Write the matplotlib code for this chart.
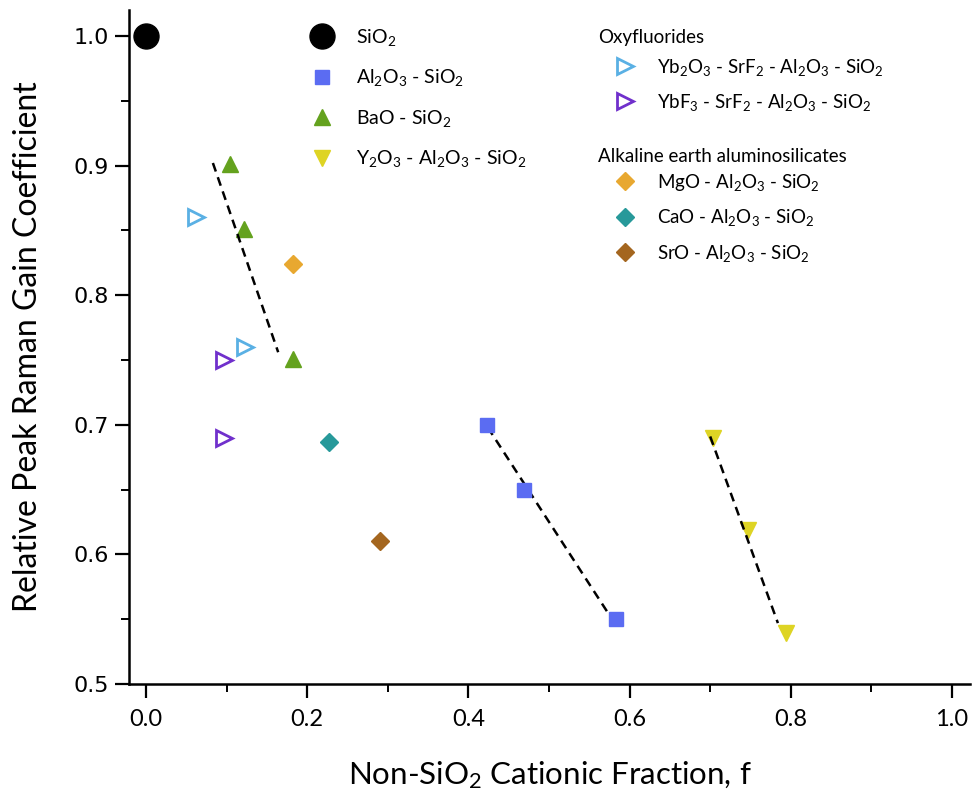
import matplotlib
matplotlib.use("Agg")
import matplotlib.pyplot as plt
from matplotlib.ticker import MultipleLocator

plt.rcParams['font.family'] = ['Lato', 'DejaVu Sans']
plt.rcParams['mathtext.fontset'] = 'custom'
plt.rcParams['mathtext.rm'] = 'Lato'
plt.rcParams['mathtext.it'] = 'Lato:italic'
plt.rcParams['mathtext.bf'] = 'Lato:bold'

# ---- data ----
sio2_x = [0.0]
sio2_y = [1.0]
al_x = [0.423, 0.469, 0.583]
al_y = [0.700, 0.650, 0.550]
ba_x = [0.104, 0.121, 0.183]
ba_y = [0.901, 0.851, 0.751]
y_x = [0.703, 0.747, 0.794]
y_y = [0.690, 0.619, 0.539]
yb2o3_x = [0.062, 0.123]
yb2o3_y = [0.860, 0.760]
ybf3_x = [0.097, 0.097]
ybf3_y = [0.750, 0.690]
mg_x = [0.182]
mg_y = [0.824]
ca_x = [0.227]
ca_y = [0.687]
sr_x = [0.290]
sr_y = [0.610]

# linear fit guide lines (end points)
fit_ba_x = [0.083, 0.164]
fit_ba_y = [0.902, 0.756]
fit_al_x = [0.424, 0.572]
fit_al_y = [0.698, 0.556]
fit_y_x = [0.700, 0.784]
fit_y_y = [0.691, 0.547]

xticks = [0.0, 0.2, 0.4, 0.6, 0.8, 1.0]
yticks = [0.5, 0.6, 0.7, 0.8, 0.9, 1.0]

group_titles = ['Oxyfluorides', 'Alkaline earth aluminosilicates']

c_al = '#5b6cf2'
c_ba = '#64a21e'
c_y = '#ded424'
c_yb = '#5ab0e4'
c_ybf = '#7030cc'
c_mg = '#e8a830'
c_ca = '#27999a'
c_sr = '#a4661f'

W, H = 972, 797
fig = plt.figure(figsize=(W / 100, H / 100), dpi=100)
L, R, T, B = 129, 970, 10, 684
ax = fig.add_axes([L / W, 1 - B / H, (R - L) / W, (B - T) / H])
px_per_x = 806.0
px_per_y = 1296.0
ax.set_xlim((L - 146) / px_per_x, (R - 146) / px_per_x)
ax.set_ylim(0.5, 0.5 + (B - T) / px_per_y)

dash = (0, (3.6, 2.4))
ax.plot(fit_ba_x, fit_ba_y, color='black', lw=1.8, linestyle=dash, zorder=2)
ax.plot(fit_al_x, fit_al_y, color='black', lw=1.8, linestyle=dash, zorder=2)
ax.plot(fit_y_x, fit_y_y, color='black', lw=1.8, linestyle=dash, zorder=2)

def sub(s):
    return r'$\mathregular{_{%s}}$' % s

h_sio2, = ax.plot(sio2_x, sio2_y, 'o', ms=18, color='black', ls='none', zorder=3, clip_on=False,
                  label='SiO' + sub(2))
h_al, = ax.plot(al_x, al_y, 's', ms=10, color=c_al, ls='none', zorder=3,
                label='Al' + sub(2) + 'O' + sub(3) + ' - SiO' + sub(2))
h_ba, = ax.plot(ba_x, ba_y, '^', ms=12, color=c_ba, ls='none', zorder=1,
                label='BaO - SiO' + sub(2))
h_y, = ax.plot(y_x, y_y, 'v', ms=12, color=c_y, ls='none', zorder=1,
               label='Y' + sub(2) + 'O' + sub(3) + ' - Al' + sub(2) + 'O' + sub(3) + ' - SiO' + sub(2))
h_yb, = ax.plot(yb2o3_x, yb2o3_y, '>', ms=11, mfc='none', mec=c_yb, mew=2, ls='none', zorder=3,
                label='Yb' + sub(2) + 'O' + sub(3) + ' - SrF' + sub(2) + ' - Al' + sub(2) + 'O' + sub(3) + ' - SiO' + sub(2))
h_ybf, = ax.plot(ybf3_x, ybf3_y, '>', ms=11, mfc='none', mec=c_ybf, mew=2, ls='none', zorder=3,
                 label='YbF' + sub(3) + ' - SrF' + sub(2) + ' - Al' + sub(2) + 'O' + sub(3) + ' - SiO' + sub(2))
h_mg, = ax.plot(mg_x, mg_y, 'D', ms=9, color=c_mg, ls='none', zorder=3,
                label='MgO - Al' + sub(2) + 'O' + sub(3) + ' - SiO' + sub(2))
h_ca, = ax.plot(ca_x, ca_y, 'D', ms=9, color=c_ca, ls='none', zorder=3,
                label='CaO - Al' + sub(2) + 'O' + sub(3) + ' - SiO' + sub(2))
h_sr, = ax.plot(sr_x, sr_y, 'D', ms=9, color=c_sr, ls='none', zorder=3,
                label='SrO - Al' + sub(2) + 'O' + sub(3) + ' - SiO' + sub(2))

# axes styling
for s in ['top', 'right']:
    ax.spines[s].set_visible(False)
for s in ['left', 'bottom']:
    ax.spines[s].set_linewidth(1.8)
ax.set_xticks(xticks)
ax.set_yticks(yticks)
ax.xaxis.set_minor_locator(MultipleLocator(0.1))
ax.yaxis.set_minor_locator(MultipleLocator(0.05))
ax.tick_params(which='major', direction='out', length=10, width=1.6)
ax.tick_params(which='minor', direction='out', length=6, width=1.4)
ax.tick_params(axis='x', which='major', labelsize=17, pad=8)
ax.tick_params(axis='y', which='major', labelsize=16, pad=4.5)
ax.set_xticklabels([f'{v:.1f}' for v in xticks])
ax.set_yticklabels([f'{v:.1f}' for v in yticks], family='DejaVu Sans')

ax.set_xlabel('Non-SiO' + sub(2) + ' Cationic Fraction, f', fontsize=22.5, labelpad=21)
ax.set_ylabel('Relative Peak Raman Gain Coefficient', fontsize=23, labelpad=22)

def fpos(x, y):
    return (x / W, 1 - y / H)

common = dict(loc='upper left', frameon=False, borderpad=0, borderaxespad=0)
leg1 = fig.legend(handles=[h_sio2, h_al, h_ba, h_y], bbox_to_anchor=fpos(306, 27),
                  fontsize=14, handlelength=1.6, handletextpad=0.95, labelspacing=1.0,
                  **common)
leg2 = fig.legend(handles=[h_yb, h_ybf], bbox_to_anchor=fpos(611, 57),
                  fontsize=13.5, handlelength=1.5, handletextpad=0.95,
                  labelspacing=0.74, **common)
leg3 = fig.legend(handles=[h_mg, h_ca, h_sr], bbox_to_anchor=fpos(611, 172),
                  fontsize=13.5, handlelength=1.5, handletextpad=0.95,
                  labelspacing=0.76, **common)
fig.text(598 / W, 1 - 38 / H, group_titles[0], fontsize=13.5, ha='left', va='center')
fig.text(598 / W, 1 - 156 / H, group_titles[1], fontsize=13.5, ha='left', va='center')

fig.savefig('out.png', dpi=100)
